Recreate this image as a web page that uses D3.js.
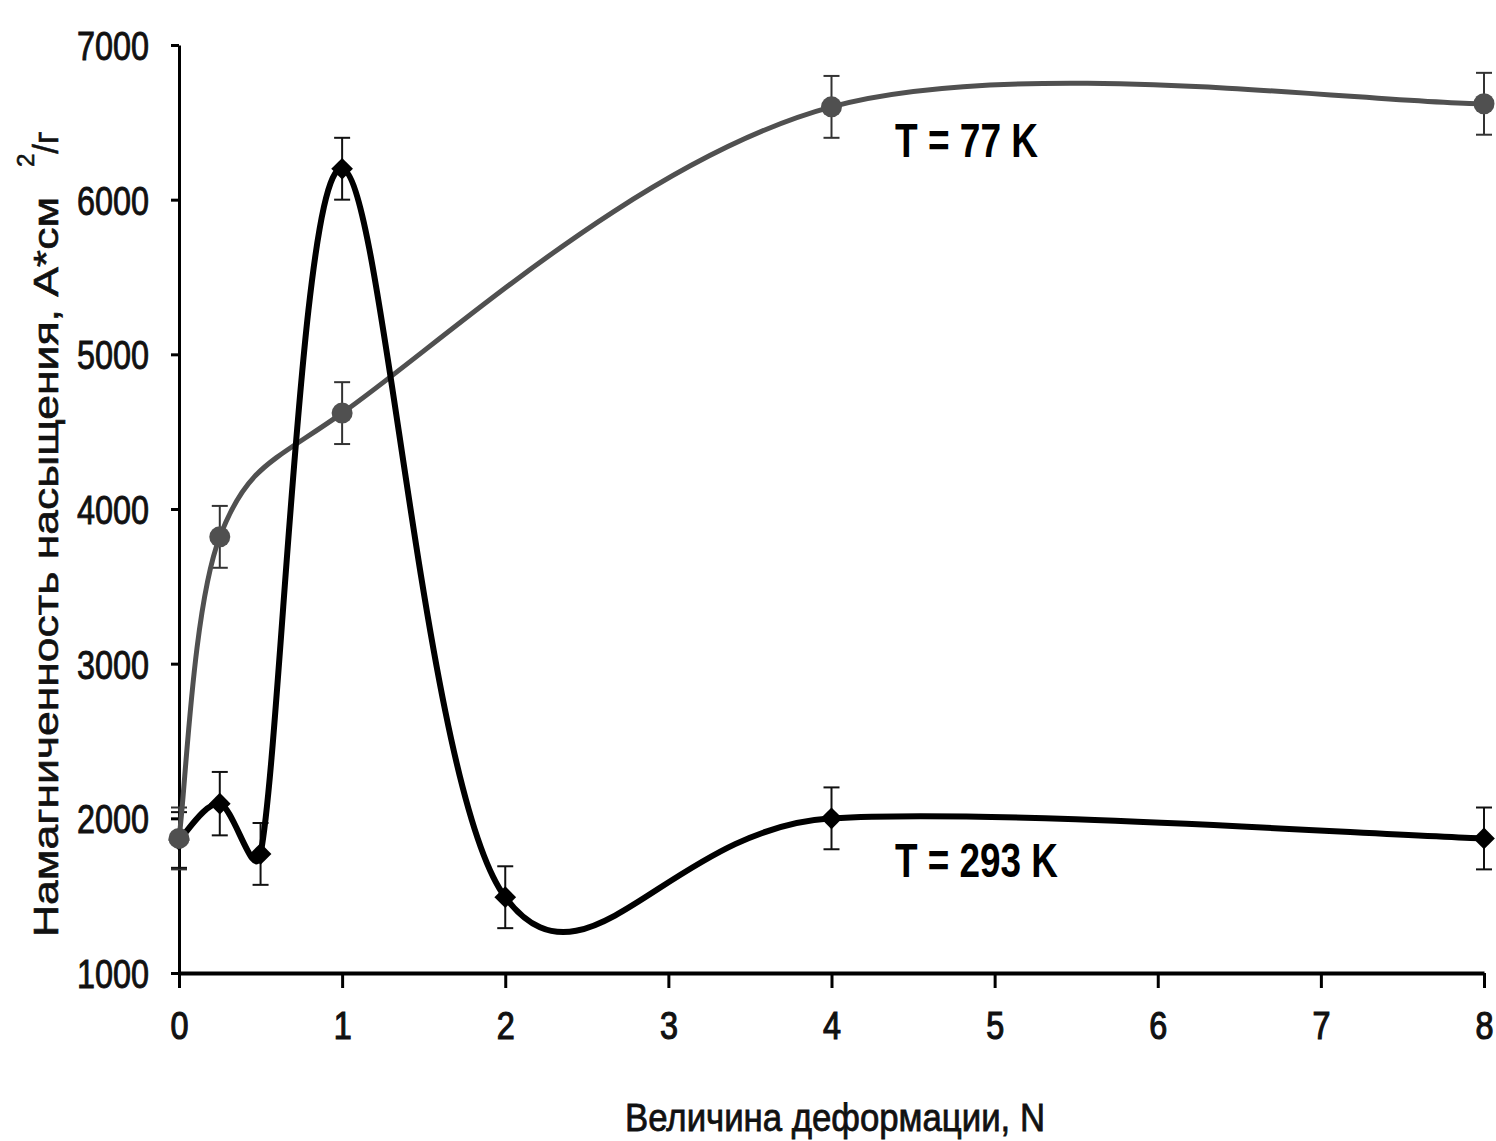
<!DOCTYPE html>
<html>
<head>
<meta charset="utf-8">
<script src="https://cdn.jsdelivr.net/npm/d3@7"></script>
<style>
  body { margin: 0; background: #fff; }
  svg { display: block; }
  text { font-family: "Liberation Sans", Arial, sans-serif; }
</style>
</head>
<body>
<div id="chart"></div>
<script>
// data
var deformN = [0, 0.25, 0.5, 1, 2, 4, 8];
var magn293 = [1860, 2095, 1770, 6200, 1490, 2000, 1870];
var err293 = [180, 205, 200, 200, 200, 200, 200];

var deformN77 = [0, 0.25, 1, 4, 8];
var magn77 = [1870, 3820, 4620, 6600, 6620];
var err77 = [200, 200, 200, 200, 200];

var xTicks = [0, 1, 2, 3, 4, 5, 6, 7, 8];
var yTicks = [1000, 2000, 3000, 4000, 5000, 6000, 7000];

var W = 1496, H = 1141;
var svg = d3.select("#chart").append("svg")
    .attr("width", W).attr("height", H);
svg.append("rect").attr("width", W).attr("height", H).attr("fill", "#fff");

var x = d3.scaleLinear().domain([0, 8]).range([179, 1484]);
var y = d3.scaleLinear().domain([1000, 7000]).range([973, 45]);

// axes
var yAxis = svg.append("g")
    .attr("transform", "translate(" + x(0) + ",0)")
    .call(d3.axisLeft(y).tickValues(yTicks).tickFormat(d3.format("d"))
      .tickSize(8).tickSizeOuter(0).tickPadding(22));
yAxis.attr("font-family", null);
yAxis.select(".domain").attr("stroke", "#000").attr("stroke-width", 3);
yAxis.selectAll(".tick line").attr("stroke", "#000").attr("stroke-width", 3);
yAxis.selectAll(".tick text")
    .attr("font-size", 40)
    .attr("fill", "#111")
    .attr("stroke", "#111").attr("stroke-width", 0.9)
    .attr("dy", "0.36em")
    .attr("textLength", 72)
    .attr("lengthAdjust", "spacingAndGlyphs");

var xAxis = svg.append("g")
    .attr("transform", "translate(0," + y(1000) + ")")
    .call(d3.axisBottom(x).tickValues(xTicks).tickSize(15).tickSizeOuter(0).tickPadding(24));
xAxis.attr("font-family", null);
xAxis.select(".domain").attr("stroke", "#000").attr("stroke-width", 4);
xAxis.selectAll(".tick line").attr("stroke", "#000").attr("stroke-width", 3);
xAxis.selectAll(".tick text")
    .attr("font-size", 38)
    .attr("fill", "#111")
    .attr("stroke", "#111").attr("stroke-width", 1.2)
    .attr("textLength", 18)
    .attr("lengthAdjust", "spacingAndGlyphs");
yAxis.raise();

// axis titles
svg.append("text")
    .attr("x", 835).attr("y", 1131)
    .attr("text-anchor", "middle")
    .attr("font-size", 39)
    .attr("fill", "#111")
    .attr("stroke", "#111").attr("stroke-width", 0.8)
    .attr("textLength", 420)
    .attr("lengthAdjust", "spacingAndGlyphs")
    .text("Величина деформации, N");

var yt = svg.append("text")
    .attr("transform", "translate(58,937) rotate(-90)")
    .attr("font-size", 35)
    .attr("fill", "#111")
    .attr("stroke", "#111").attr("stroke-width", 0.6);
yt.append("tspan")
    .attr("textLength", 740)
    .attr("lengthAdjust", "spacingAndGlyphs")
    .text("Намагниченность насыщения, А*см");
yt.append("tspan").attr("dx", 30).attr("dy", -24).attr("font-size", 24).text("2");
yt.append("tspan").attr("dy", 24).text("/г");

// Excel-like smoothed line: bezier with 1/6 tangents, arms capped at half a segment
function dist(a, b) { return Math.hypot(b[0] - a[0], b[1] - a[1]); }
function smoothPath(data) {
  var pts = data.map(function(d) { return [x(d[0]), y(d[1])]; });
  var n = pts.length, p = d3.path();
  p.moveTo(pts[0][0], pts[0][1]);
  for (var i = 0; i < n - 1; i++) {
    var p0 = pts[Math.max(i - 1, 0)], p1 = pts[i], p2 = pts[i + 1], p3 = pts[Math.min(i + 2, n - 1)];
    var d12 = dist(p1, p2), d02 = dist(p0, p2), d13 = dist(p1, p3);
    var f = 1 / 6, g = 1 / 6;
    if (d02 / 6 > d12 / 2) f = d12 / (2 * d02);
    if (d13 / 6 > d12 / 2) g = d12 / (2 * d13);
    p.bezierCurveTo(
      p1[0] + f * (p2[0] - p0[0]), p1[1] + f * (p2[1] - p0[1]),
      p2[0] - g * (p3[0] - p1[0]), p2[1] - g * (p3[1] - p1[1]),
      p2[0], p2[1]);
  }
  return p.toString();
}

function zip(a, b, c) {
  return a.map(function(v, i) { return [v, b[i], c[i]]; });
}
var s293 = zip(deformN, magn293, err293);
var s77 = zip(deformN77, magn77, err77);

function errorBars(data, color) {
  var g = svg.append("g").attr("stroke", color).attr("stroke-width", 2);
  g.selectAll("line.v").data(data).join("line").attr("class", "v")
    .attr("x1", function(d) { return x(d[0]); }).attr("x2", function(d) { return x(d[0]); })
    .attr("y1", function(d) { return y(d[1] + d[2]); }).attr("y2", function(d) { return y(d[1] - d[2]); });
  g.selectAll("line.t").data(data).join("line").attr("class", "t")
    .attr("x1", function(d) { return x(d[0]) - 8; }).attr("x2", function(d) { return x(d[0]) + 8; })
    .attr("y1", function(d) { return y(d[1] + d[2]); }).attr("y2", function(d) { return y(d[1] + d[2]); });
  g.selectAll("line.b").data(data).join("line").attr("class", "b")
    .attr("x1", function(d) { return x(d[0]) - 8; }).attr("x2", function(d) { return x(d[0]) + 8; })
    .attr("y1", function(d) { return y(d[1] - d[2]); }).attr("y2", function(d) { return y(d[1] - d[2]); });
}

errorBars(s77, "#333");
errorBars(s293, "#111");

svg.append("path").datum(s77)
    .attr("d", smoothPath).attr("fill", "none")
    .attr("stroke", "#505050").attr("stroke-width", 5);
svg.append("path").datum(s293)
    .attr("d", smoothPath).attr("fill", "none")
    .attr("stroke", "#000").attr("stroke-width", 6);

// markers
svg.append("g").selectAll("path").data(s293).join("path")
    .attr("transform", function(d) { return "translate(" + x(d[0]) + "," + y(d[1]) + ")"; })
    .attr("d", d3.symbol().type(d3.symbolDiamond2).size(300))
    .attr("fill", "#000");
svg.append("g").selectAll("circle").data(s77).join("circle")
    .attr("cx", function(d) { return x(d[0]); })
    .attr("cy", function(d) { return y(d[1]); })
    .attr("r", 10.5)
    .attr("fill", "#505050");

// series labels
svg.append("text")
    .attr("x", 895).attr("y", 157)
    .attr("font-size", 48).attr("font-weight", "bold").attr("fill", "#000")
    .attr("textLength", 143).attr("lengthAdjust", "spacingAndGlyphs")
    .text("T = 77 K");
svg.append("text")
    .attr("x", 895).attr("y", 877)
    .attr("font-size", 48).attr("font-weight", "bold").attr("fill", "#000")
    .attr("textLength", 163).attr("lengthAdjust", "spacingAndGlyphs")
    .text("T = 293 K");
</script>
</body>
</html>
